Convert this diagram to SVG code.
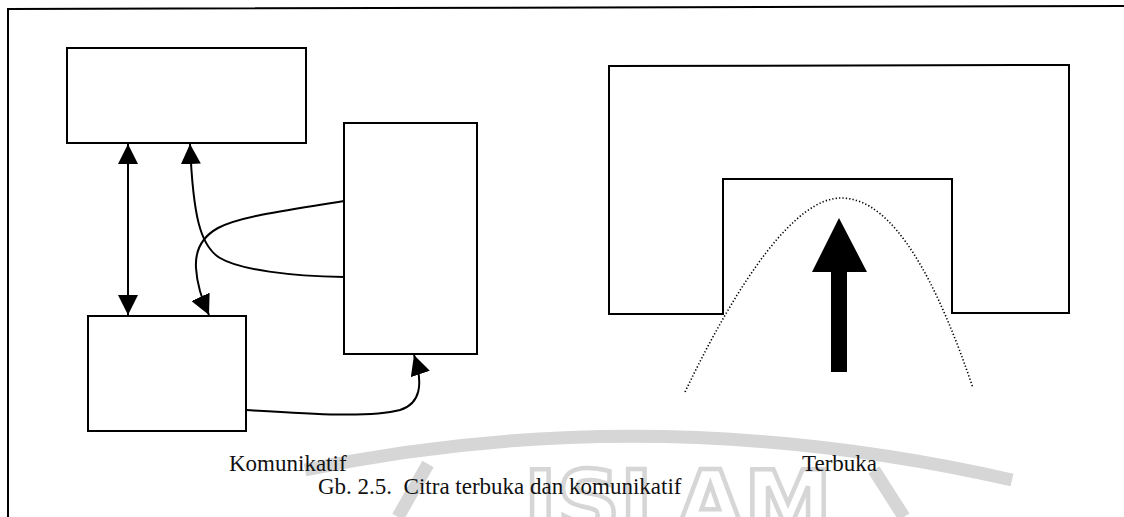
<svg xmlns="http://www.w3.org/2000/svg" width="1124" height="517" viewBox="0 0 1124 517">
  <style>
    .box { fill: none; stroke: #000; stroke-width: 2; }
    .link { fill: none; stroke: #000; stroke-width: 2; }
    .label { font-family: "Liberation Serif", "Times New Roman", serif; font-size: 23px; fill: #111; }
    .wm { fill: #fff; stroke: #d6d6d6; stroke-width: 4.5; }
    .seal { fill: none; stroke: #d6d6d6; stroke-width: 13; }
  </style>
  <defs>
    <marker id="ah" markerUnits="userSpaceOnUse" viewBox="0 0 20 20" markerWidth="20" markerHeight="20" refX="20" refY="10" orient="auto-start-reverse">
      <path d="M0,0 L20,10 L0,20 z" fill="#000"/>
    </marker>
  </defs>

  <rect width="1124" height="517" fill="#fff"/>

  <!-- faint background seal -->
  <g id="seal">
    <path class="seal" d="M305,470 Q 650,398 1012,480"/>
    <path class="seal" d="M398,517 L428,464"/>
    <path class="seal" d="M874,470 L904,517"/>
    <text x="524" y="533" class="wm" style="font-family: 'DejaVu Sans', sans-serif; font-weight: bold; font-size: 88px;">ISLAM</text>
  </g>

  <!-- page frame -->
  <g id="frame">
    <path d="M8,517 L8,9 L1124,6" fill="none" stroke="#000" stroke-width="2"/>
  </g>

  <!-- left figure: communicating blocks -->
  <g id="block-top"><rect class="box" x="67" y="48" width="239" height="95"/></g>
  <g id="block-right"><rect class="box" x="344" y="123" width="133" height="231"/></g>
  <g id="block-bottom"><rect class="box" x="88" y="316" width="158" height="115"/></g>

  <g id="connectors">
    <path class="link" d="M128,144 L128,315" marker-start="url(#ah)" marker-end="url(#ah)"/>
    <path class="link" d="M344,277 C 290,276 240,270 220,258 C 200,246 193,215 190,144" marker-end="url(#ah)"/>
    <path class="link" d="M344,201 C 290,210 240,216 218,228 C 200,238 195,252 196,268 C 197,285 202,300 209,315" marker-end="url(#ah)"/>
    <path class="link" d="M246,410 C 310,414 370,418 400,410 C 420,404 424,385 414,355" marker-end="url(#ah)"/>
  </g>

  <!-- right figure: open form -->
  <g id="open-form">
    <path d="M609,66 L1069,65 L1069,313 L952,313 L952,179 L723,179 L723,314 L609,314 Z" fill="none" stroke="#000" stroke-width="2"/>
  </g>
  <g id="reach-curve">
    <path d="M685,392 C 740,277 796,198 841,198 C 895,198 938,285 973,388" fill="none" stroke="#000" stroke-width="1.6" stroke-dasharray="1.3 2.1"/>
  </g>
  <g id="entry-arrow">
    <polygon points="839,218 867,272 847,272 847,372 831,372 831,272 812,272" fill="#000"/>
  </g>

  <!-- labels -->
  <g id="labels">
    <text class="label" x="229" y="471">Komunikatif</text>
    <text class="label" x="802" y="471">Terbuka</text>
    <text class="label" x="318" y="494" style="white-space: pre;">Gb. 2.5.  Citra terbuka dan komunikatif</text>
  </g>
</svg>
